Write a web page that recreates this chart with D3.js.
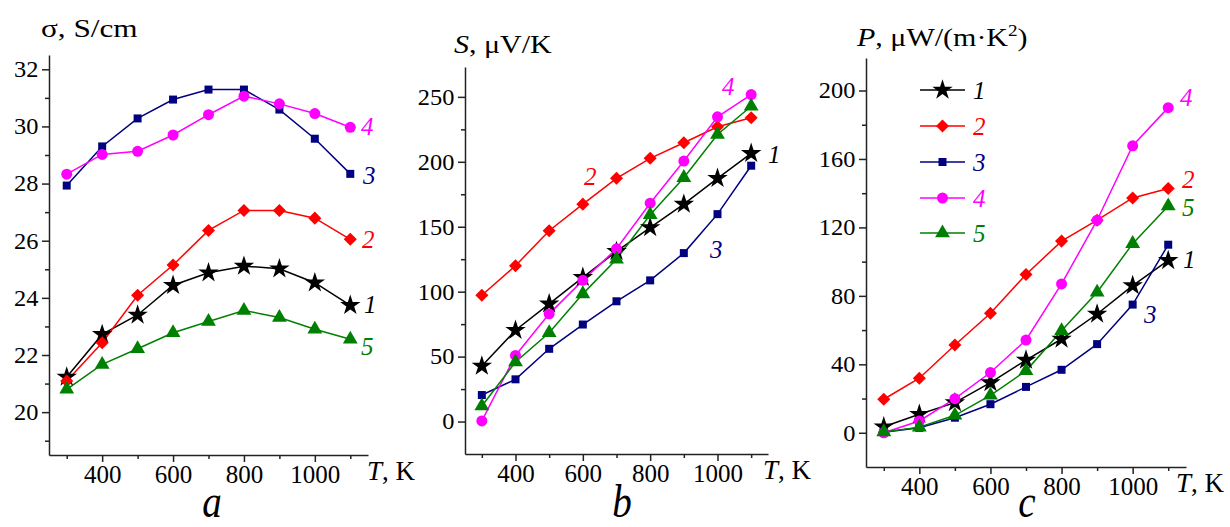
<!DOCTYPE html>
<html lang="en">
<head>
<meta charset="UTF-8">
<title>Thermoelectric properties vs T</title>
<script src="https://cdnjs.cloudflare.com/ajax/libs/d3/7.8.5/d3.min.js"></script>
<style>
  body { margin: 0; background: #fff; }
  svg text { font-family: "Liberation Serif", "DejaVu Serif", serif; fill: #000; }
  .axis path, .axis line { stroke: #222; stroke-width: 1.5px; }
  .axis text { font-family: "Liberation Serif", serif; }
  .xaxis text { font-size: 25px; }
  .yaxis text { font-size: 23px; }
  .curve { fill: none; stroke-width: 1.5px; }
</style>
</head>
<body>
<svg width="1230" height="527"></svg>
<script>
// temperatures, K
const temps = [300, 400, 500, 600, 700, 800, 900, 1000, 1100];

// a: electrical conductivity, S/cm
const sigma1 = [21.23, 22.72, 23.4, 24.44, 24.88, 25.11, 25.02, 24.53, 23.74];
const sigma2 = [21.09, 22.43, 24.09, 25.15, 26.36, 27.06, 27.06, 26.79, 26.05];
const sigma3 = [27.93, 29.3, 30.28, 30.94, 31.29, 31.29, 30.59, 29.57, 28.34];
const sigma4 = [28.33, 29.02, 29.13, 29.7, 30.41, 31.06, 30.79, 30.45, 29.97];
const sigma5 = [20.8, 21.67, 22.22, 22.78, 23.17, 23.56, 23.31, 22.9, 22.55];

// b: Seebeck coefficient, uV/K
const seeb1 = [42.7, 70.3, 90.6, 111, 131, 149.4, 167.4, 187.3, 206.5];
const seeb2 = [97.2, 120, 146.9, 167.4, 187.3, 202.7, 214.7, 227, 233.9];
const seeb3 = [20.4, 32.5, 56, 74.7, 92.6, 108.7, 129.7, 159.7, 197];
const seeb4 = [0.5, 50.9, 82.9, 108.7, 133, 168.1, 200.6, 234.6, 251.8];
const seeb5 = [12, 45.8, 68.3, 98.3, 125, 159.2, 187.8, 221, 242.8];

// c: power factor, uW/(m K^2)
const pf1 = [3.5, 10.8, 17.6, 29.3, 42.5, 54.8, 69.4, 86, 100.7];
const pf2 = [19.6, 31.9, 51.3, 69.8, 92.5, 112, 124.2, 137.2, 142.8];
const pf3 = [0.3, 2.9, 8.8, 16.7, 26.8, 36.8, 51.8, 74.9, 109.9];
const pf4 = [0, 6.9, 19.9, 35.2, 54.2, 87, 124.2, 167.7, 190];
const pf5 = [0.5, 3.3, 10.2, 21.9, 36.2, 59.6, 82.1, 110.5, 132.5];

const seriesNames = ["1", "2", "3", "4", "5"];
const seriesColors = ["#000000", "#ff0000", "#000080", "#ff00ff", "#008000"];

const xTicks = [400, 600, 800, 1000];
const xMinor = [300, 500, 700, 900, 1100];

const svg = d3.select("svg");

const markers = [
  { type: d3.symbolStar, size: 130, rot: 0 },
  { type: d3.symbolSquare, size: 85, rot: 45 },
  { type: d3.symbolSquare, size: 64, rot: 0 },
  { type: d3.symbolCircle, size: 95, rot: 0 },
  { type: d3.symbolTriangle, size: 95, rot: 0 }
];

function drawMarker(g, i, x, y) {
  const m = markers[i];
  g.append("path")
    .attr("d", d3.symbol().type(m.type).size(m.size)())
    .attr("transform", `translate(${x},${y}) rotate(${m.rot})`)
    .attr("fill", seriesColors[i]);
}

// text placed at (x,y), optionally stretched sideways
function label(g, x, y, size, sx = 1, sy = 1) {
  return g.append("text")
    .attr("transform", `translate(${x},${y}) scale(${sx},${sy})`)
    .style("font-size", size + "px");
}

function panel(cfg) {
  const x = d3.scaleLinear().domain([250, 1150]).range([cfg.left, cfg.right]);
  const y = d3.scaleLinear().domain(cfg.yDomain).range([cfg.bottom, cfg.top]);
  const g = svg.append("g");

  // minor ticks
  g.append("g").attr("class", "axis")
    .attr("transform", `translate(0,${cfg.bottom})`)
    .call(d3.axisBottom(x).tickValues(xMinor).tickSize(4).tickFormat(""))
    .select(".domain").remove();
  g.append("g").attr("class", "axis")
    .attr("transform", `translate(${cfg.left},0)`)
    .call(d3.axisLeft(y).tickValues(cfg.yMinor).tickSize(4).tickFormat(""))
    .select(".domain").remove();

  g.append("g").attr("class", "axis xaxis")
    .attr("transform", `translate(0,${cfg.bottom})`)
    .call(d3.axisBottom(x).tickValues(xTicks).tickFormat(d3.format("d"))
      .tickSize(7).tickSizeOuter(0).tickPadding(3));
  g.append("g").attr("class", "axis yaxis")
    .attr("transform", `translate(${cfg.left},0)`)
    .call(d3.axisLeft(y).tickValues(cfg.yTicks).tickSize(7).tickSizeOuter(0).tickPadding(3))
    .selectAll("text").attr("transform", "scale(1.06,1)");

  const line = d3.line().x((d, j) => x(temps[j])).y(d => y(d));
  cfg.data.forEach((vals, i) => {
    g.append("path").attr("class", "curve")
      .attr("d", line(vals))
      .attr("stroke", seriesColors[i]);
  });
  cfg.data.forEach((vals, i) => {
    vals.forEach((v, j) => drawMarker(g, i, x(temps[j]), y(v)));
  });

  cfg.labels.forEach(l => {
    label(g, l.x, l.y, 25)
      .style("font-style", "italic")
      .style("fill", seriesColors[l.i])
      .text(seriesNames[l.i]);
  });

  // T, K
  const tk = label(g, cfg.tkX, cfg.bottom + 25, 27);
  tk.append("tspan").style("font-style", "italic").text("T");
  tk.append("tspan").text(", K");

  label(g, cfg.letterX, 517, 46, 0.85, 1)
    .style("font-style", "italic")
    .attr("text-anchor", "middle")
    .text(cfg.letter);

  return { g, x, y };
}

// panel a
const pa = panel({
  left: 49, right: 368, top: 55, bottom: 455,
  yDomain: [18.5, 32.5],
  yTicks: [20, 22, 24, 26, 28, 30, 32],
  yMinor: [19, 21, 23, 25, 27, 29, 31],
  data: [sigma1, sigma2, sigma3, sigma4, sigma5],
  labels: [
    { i: 3, x: 361, y: 135 }, { i: 2, x: 363, y: 184 }, { i: 1, x: 362, y: 248 },
    { i: 0, x: 364, y: 313 }, { i: 4, x: 361, y: 355 }
  ],
  tkX: 367, letter: "a", letterX: 212
});
label(pa.g, 41, 37, 25, 1.25, 1).text("σ, S/cm");

// panel b
const pb = panel({
  left: 465, right: 768, top: 67, bottom: 454,
  yDomain: [-25, 273],
  yTicks: [0, 50, 100, 150, 200, 250],
  yMinor: [25, 75, 125, 175, 225],
  data: [seeb1, seeb2, seeb3, seeb4, seeb5],
  labels: [
    { i: 1, x: 584, y: 185 }, { i: 3, x: 722, y: 95 }, { i: 0, x: 768, y: 163 },
    { i: 2, x: 710, y: 258 }
  ],
  tkX: 763, letter: "b", letterX: 622
});
const tb = label(pb.g, 454, 53, 25, 1.2, 1);
tb.append("tspan").style("font-style", "italic").text("S");
tb.append("tspan").text(", μV/K");

// panel c
const pc = panel({
  left: 866, right: 1186, top: 58, bottom: 467,
  yDomain: [-20, 219],
  yTicks: [0, 40, 80, 120, 160, 200],
  yMinor: [20, 60, 100, 140, 180],
  data: [pf1, pf2, pf3, pf4, pf5],
  labels: [
    { i: 3, x: 1180, y: 106 }, { i: 1, x: 1182, y: 188 }, { i: 4, x: 1182, y: 216 },
    { i: 0, x: 1183, y: 268 }, { i: 2, x: 1144, y: 323 }
  ],
  tkX: 1176, letter: "c", letterX: 1027
});
const tc = label(pc.g, 857, 46, 25, 1.2, 1);
tc.append("tspan").style("font-style", "italic").text("P");
tc.append("tspan").text(", μW/(m·K");
tc.append("tspan").attr("dy", -10).style("font-size", "16px").text("2");
tc.append("tspan").attr("dy", 10).text(")");

// legend in panel c
const legY = [90, 126, 162, 198, 233];
seriesNames.forEach((n, i) => {
  const lg = pc.g.append("g");
  lg.append("line").attr("x1", 920).attr("x2", 965)
    .attr("y1", legY[i]).attr("y2", legY[i])
    .attr("stroke", seriesColors[i]).attr("stroke-width", 1.5);
  drawMarker(lg, i, 942.5, legY[i]);
  label(lg, 973, legY[i] + 9, 25)
    .style("font-style", "italic")
    .style("fill", seriesColors[i]).text(n);
});
</script>
</body>
</html>
